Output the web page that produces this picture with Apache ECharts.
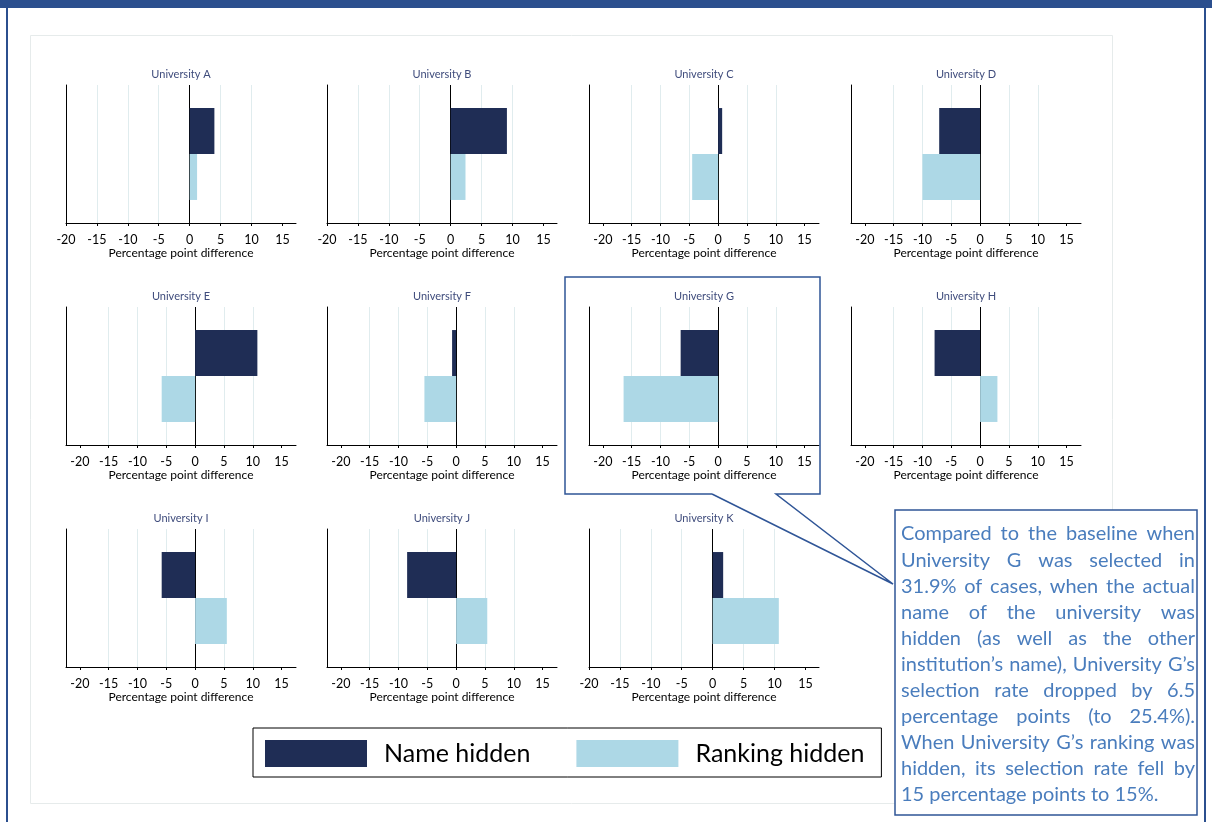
<!DOCTYPE html>
<html>
<head>
<meta charset="utf-8">
<script src="https://cdn.jsdelivr.net/npm/echarts@6/dist/echarts.min.js"></script>
<style>
  html, body { margin: 0; padding: 0; background: #ffffff; }
  #chart { width: 1212px; height: 822px; }
</style>
</head>
<body>
<div id="chart"></div>
<script>
// Change in selection rate (percentage points) for each university
const universities = ['University A', 'University B', 'University C', 'University D',
                      'University E', 'University F', 'University G', 'University H',
                      'University I', 'University J', 'University K'];
const nameHidden    = [4.0, 9.1, 0.7, -7.1, 10.8, -0.7, -6.5, -7.9, -5.8, -8.5, 1.7];
const rankingHidden = [1.2, 2.4, -4.5, -10.0, -5.8, -5.5, -16.4, 3.0, 5.5, 5.4, 10.7];
const seriesNames = ['Name hidden', 'Ranking hidden'];
const tickValues = [-20, -15, -10, -5, 0, 5, 10, 15];
const axisMin = [-20, -20, -22.4, -22.4, -22.4, -22.4, -22.4, -22.4, -22.4, -22.4, -20];
const axisMax = [17.2, 17.2, 17.5, 17.5, 17.5, 17.5, 17.5, 17.5, 17.5, 17.5, 17.2];
const axisTitle = 'Percentage point difference';
const noteLines = [
  'Compared to the baseline when',
  'University G was selected in',
  '31.9% of cases, when the actual',
  'name of the university was',
  'hidden (as well as the other',
  'institution\u2019s name), University G\u2019s',
  'selection rate dropped by 6.5',
  'percentage points (to 25.4%).',
  'When University G\u2019s ranking was',
  'hidden, its selection rate fell by',
  '15 percentage points to 15%.'
];

const FONT = 'Lato, "Open Sans", sans-serif';
const NAVY = '#1f2d55';
const LIGHT = '#add8e6';
const FRAME = '#2b4f8e';
const NOTE_BLUE = '#4a7dbd';

// small-multiple layout: 4 columns x 3 rows
const colLeft = [66, 327, 589, 851];
const colWidth = 230;
const rowTop = [85, 307, 529];
const plotHeight = 138;

const grids = [], xAxes = [], yAxes = [], series = [], titles = [];

universities.forEach((u, i) => {
  const r = Math.floor(i / 4), c = i % 4;
  const left = colLeft[c], top = rowTop[r];
  grids.push({ left: left, top: top, width: colWidth, height: plotHeight });
  titles.push({
    text: u, left: left + colWidth / 2, top: top - 16, padding: 0,
    textAlign: 'center',
    textStyle: { fontFamily: FONT, fontSize: 11, fontWeight: 'normal', color: '#3f4c7c' }
  });
  xAxes.push({
    gridIndex: i, type: 'value', min: axisMin[i], max: axisMax[i], interval: 5,
    axisLine: { show: true, onZero: false, lineStyle: { color: '#000', width: 1 } },
    axisTick: { show: true, length: 3, customValues: tickValues, lineStyle: { color: '#000' } },
    axisLabel: { customValues: tickValues, margin: 10, fontFamily: FONT, fontSize: 12.5, color: '#000' },
    splitLine: { show: true, showMinLine: false, showMaxLine: false, lineStyle: { color: '#e0ecee', width: 1 } },
    name: axisTitle, nameLocation: 'middle', nameGap: 21,
    nameTextStyle: { fontFamily: FONT, fontSize: 12, color: '#000' }
  });
  yAxes.push({
    gridIndex: i, type: 'category', data: [u], inverse: true,
    axisLine: { show: true, onZero: false, lineStyle: { color: '#000', width: 1 } },
    axisTick: { show: false }, axisLabel: { show: false }, splitLine: { show: false }
  });
  series.push({
    name: seriesNames[0], type: 'bar', xAxisIndex: i, yAxisIndex: i,
    data: [nameHidden[i]], barGap: '0%', barCategoryGap: '33.4%',
    itemStyle: { color: NAVY }, silent: true,
    markLine: {
      silent: true, symbol: 'none', z: 1, label: { show: false },
      lineStyle: { color: '#000', width: 1, type: 'solid' },
      data: [{ xAxis: 0 }]
    }
  });
  series.push({
    name: seriesNames[1], type: 'bar', xAxisIndex: i, yAxisIndex: i,
    data: [rankingHidden[i]], barGap: '0%', barCategoryGap: '33.4%',
    itemStyle: { color: LIGHT }, silent: true
  });
});

// justified note text inside the callout box; font sized so the longest line fills the box
const noteLeft = 901, noteRight = 1195, noteTop = 534, noteStep = 26.1;
const measureCtx = document.createElement('canvas').getContext('2d');
measureCtx.font = '17px Lato';
const widest = Math.max.apply(null, noteLines.map(l => measureCtx.measureText(l).width));
const NOTE_SIZE = Math.min(20, 17 * (noteRight - noteLeft - 3) / widest);
measureCtx.font = NOTE_SIZE + 'px Lato';
const noteTexts = [];
noteLines.forEach((line, li) => {
  const y = noteTop + li * noteStep;
  const words = line.split(' ');
  const widths = words.map(w => measureCtx.measureText(w).width);
  const total = widths.reduce((a, b) => a + b, 0);
  const last = li === noteLines.length - 1;
  const gap = last || words.length < 2
    ? measureCtx.measureText(' ').width
    : (noteRight - noteLeft - total) / (words.length - 1);
  let x = noteLeft;
  words.forEach((w, wi) => {
    noteTexts.push({
      type: 'text', z: 30, silent: true,
      style: { text: w, x: x, y: y, fill: NOTE_BLUE, font: NOTE_SIZE + 'px Lato', verticalAlign: 'middle', align: 'left' }
    });
    x += widths[wi] + gap;
  });
});

const graphics = [
  // page frame
  { type: 'rect', z: 0, silent: true, shape: { x: 0, y: 0, width: 1212, height: 8 }, style: { fill: FRAME } },
  { type: 'line', z: 0, silent: true, shape: { x1: 7, y1: 0, x2: 7, y2: 822 }, style: { stroke: FRAME, lineWidth: 2 } },
  { type: 'line', z: 0, silent: true, shape: { x1: 1205, y1: 0, x2: 1205, y2: 822 }, style: { stroke: FRAME, lineWidth: 2 } },
  // figure panel
  { type: 'rect', z: -1, silent: true, shape: { x: 30.5, y: 35.5, width: 1082, height: 768 }, style: { fill: 'none', stroke: '#e6ebeb', lineWidth: 1 } },
  // speech-bubble outline around University G
  { type: 'polyline', z: 20, silent: true,
    shape: { points: [[712, 494], [565, 494], [565, 277], [820, 277], [820, 494], [776, 494], [893, 584], [712, 494]] },
    style: { fill: 'none', stroke: '#2f5597', lineWidth: 1.5 } },
  // note box
  { type: 'rect', z: 25, silent: true, shape: { x: 895, y: 510, width: 302, height: 305 }, style: { fill: '#fff', stroke: '#2f5597', lineWidth: 1.5 } }
].concat(noteTexts);

const chart = echarts.init(document.getElementById('chart'), null, { renderer: 'canvas' });
chart.setOption({
  backgroundColor: '#ffffff',
  animation: false,
  title: titles,
  grid: grids,
  xAxis: xAxes,
  yAxis: yAxes,
  series: series,
  legend: {
    left: 253, top: 728, orient: 'horizontal', selectedMode: false,
    padding: [12, 17, 10, 12], itemWidth: 102, itemHeight: 27, itemGap: 46,
    borderColor: '#000', borderWidth: 1, icon: 'rect',
    textStyle: { fontFamily: FONT, fontSize: 25, color: '#000', padding: [0, 0, 0, 12] },
    data: seriesNames
  },
  graphic: graphics
});
</script>
</body>
</html>
